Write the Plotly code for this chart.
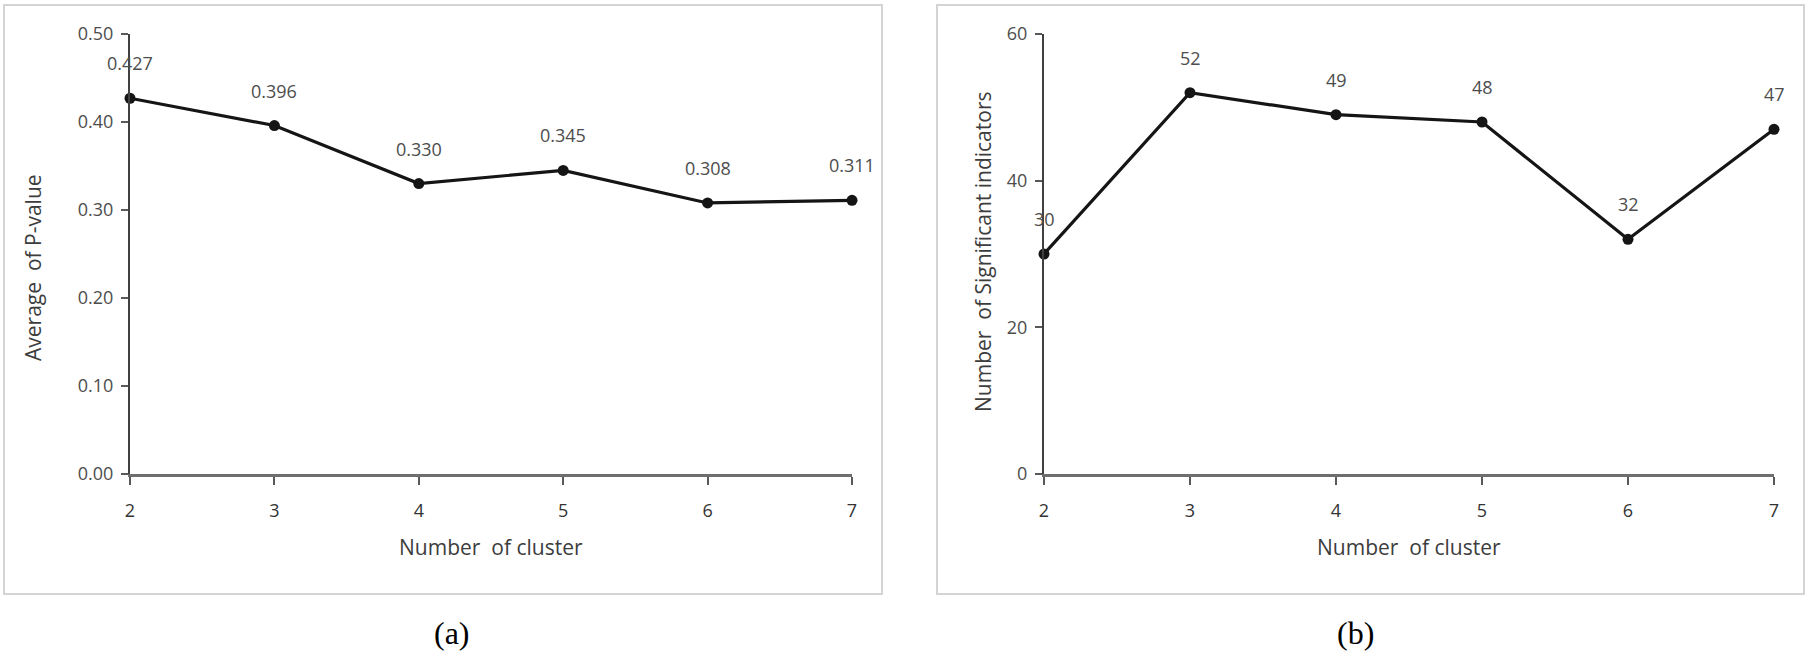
import plotly.graph_objects as go

W, H = 1811, 652

clusters = [2, 3, 4, 5, 6, 7]
avg_p_value = [0.427, 0.396, 0.330, 0.345, 0.308, 0.311]
avg_p_labels = ["0.427", "0.396", "0.330", "0.345", "0.308", "0.311"]
sig_indicators = [30, 52, 49, 48, 32, 47]
sig_labels = ["30", "52", "49", "48", "32", "47"]
y1_tickvals = [0.0, 0.1, 0.2, 0.3, 0.4, 0.5]
y1_ticktext = ["0.00", "0.10", "0.20", "0.30", "0.40", "0.50"]
y2_tickvals = [0, 20, 40, 60]
y2_ticktext = ["0", "20", "40", "60"]
x_title = "Number  of cluster"
y1_title = "Average  of P-value"
y2_title = "Number  of Significant indicators"
panel_labels = ["(a)", "(b)"]

FONT = "Open Sans"
TXT = "#4d4d4d"

def px(x):
    return x / W

def py(y):
    return 1 - y / H

fig = go.Figure()

line_style = dict(color="#151515", width=3.2)
marker_style = dict(color="#151515", size=11, symbol="circle")

fig.add_trace(go.Scatter(x=clusters, y=avg_p_value, mode="lines+markers",
                         line=line_style, marker=marker_style, cliponaxis=False,
                         xaxis="x", yaxis="y", showlegend=False, hoverinfo="skip"))
fig.add_trace(go.Scatter(x=clusters, y=sig_indicators, mode="lines+markers",
                         line=line_style, marker=marker_style, cliponaxis=False,
                         xaxis="x2", yaxis="y2", showlegend=False, hoverinfo="skip"))

y_dom = [py(474), py(34)]
x_common = dict(range=[2, 7], tickvals=clusters, ticktext=[str(c) for c in clusters],
                showline=True, linecolor="#6e6e6e", linewidth=3, ticks="outside",
                ticklen=8, tickwidth=2, tickcolor="#595959", showgrid=False, zeroline=False,
                tickfont=dict(family=FONT, size=18, color="#333333"), ticklabelstandoff=10,
                fixedrange=True, automargin=False)
y_common = dict(showline=True, linecolor="#404040", linewidth=2, ticks="outside",
                ticklen=7, tickwidth=2, tickcolor="#595959", showgrid=False, zeroline=False,
                tickfont=dict(family=FONT, size=18, color=TXT), ticklabelstandoff=4,
                fixedrange=True, domain=y_dom, automargin=False)

fig.update_layout(
    template="none",
    width=W, height=H, autosize=False,
    margin=dict(l=0, r=0, t=0, b=0, pad=0),
    paper_bgcolor="white", plot_bgcolor="white",
    xaxis=dict(domain=[px(130), px(852)], anchor="y", **x_common),
    yaxis=dict(range=[0, 0.5], tickvals=y1_tickvals, ticktext=y1_ticktext, anchor="x", **y_common),
    xaxis2=dict(domain=[px(1044), px(1774)], anchor="y2", **x_common),
    yaxis2=dict(range=[0, 60], tickvals=y2_tickvals, ticktext=y2_ticktext, anchor="x2", **y_common),
)

annotations = []
for xv, yv, lab in zip(clusters, avg_p_value, avg_p_labels):
    annotations.append(dict(x=xv, y=yv, xref="x", yref="y", text=lab, showarrow=False,
                            yshift=35, font=dict(family=FONT, size=18, color=TXT)))
for xv, yv, lab in zip(clusters, sig_indicators, sig_labels):
    annotations.append(dict(x=xv, y=yv, xref="x2", yref="y2", text=lab, showarrow=False,
                            yshift=35, font=dict(family=FONT, size=18, color=TXT)))

title_font = dict(family=FONT, size=21, color="#3d3d3d")
annotations += [
    dict(x=px(491), y=py(547), xref="paper", yref="paper", text=x_title, showarrow=False,
         xanchor="center", yanchor="middle", font=title_font),
    dict(x=px(1409), y=py(547), xref="paper", yref="paper", text=x_title, showarrow=False,
         xanchor="center", yanchor="middle", font=title_font),
    dict(x=px(33), y=py(268), xref="paper", yref="paper", text=y1_title, showarrow=False,
         textangle=-90, xanchor="center", yanchor="middle", font=title_font),
    dict(x=px(983), y=py(252), xref="paper", yref="paper", text=y2_title, showarrow=False,
         textangle=-90, xanchor="center", yanchor="middle", font=title_font),
    dict(x=px(452), y=py(633), xref="paper", yref="paper", text=panel_labels[0], showarrow=False,
         xanchor="center", yanchor="middle", font=dict(family="Liberation Serif", size=32, color="black")),
    dict(x=px(1355), y=py(633), xref="paper", yref="paper", text=panel_labels[1], showarrow=False,
         xanchor="center", yanchor="middle", font=dict(family="Liberation Serif", size=32, color="black")),
]
fig.update_layout(annotations=annotations)

border = dict(color="#d4d4d4", width=2)
fig.update_layout(shapes=[
    dict(type="rect", xref="paper", yref="paper", x0=px(4), x1=px(882), y0=py(594), y1=py(5), line=border),
    dict(type="rect", xref="paper", yref="paper", x0=px(937), x1=px(1804), y0=py(594), y1=py(5), line=border),
])

fig.write_html("out.html", config={"displayModeBar": False, "responsive": False},
               post_script="document.body.style.margin='0px';document.body.style.overflow='hidden';")
